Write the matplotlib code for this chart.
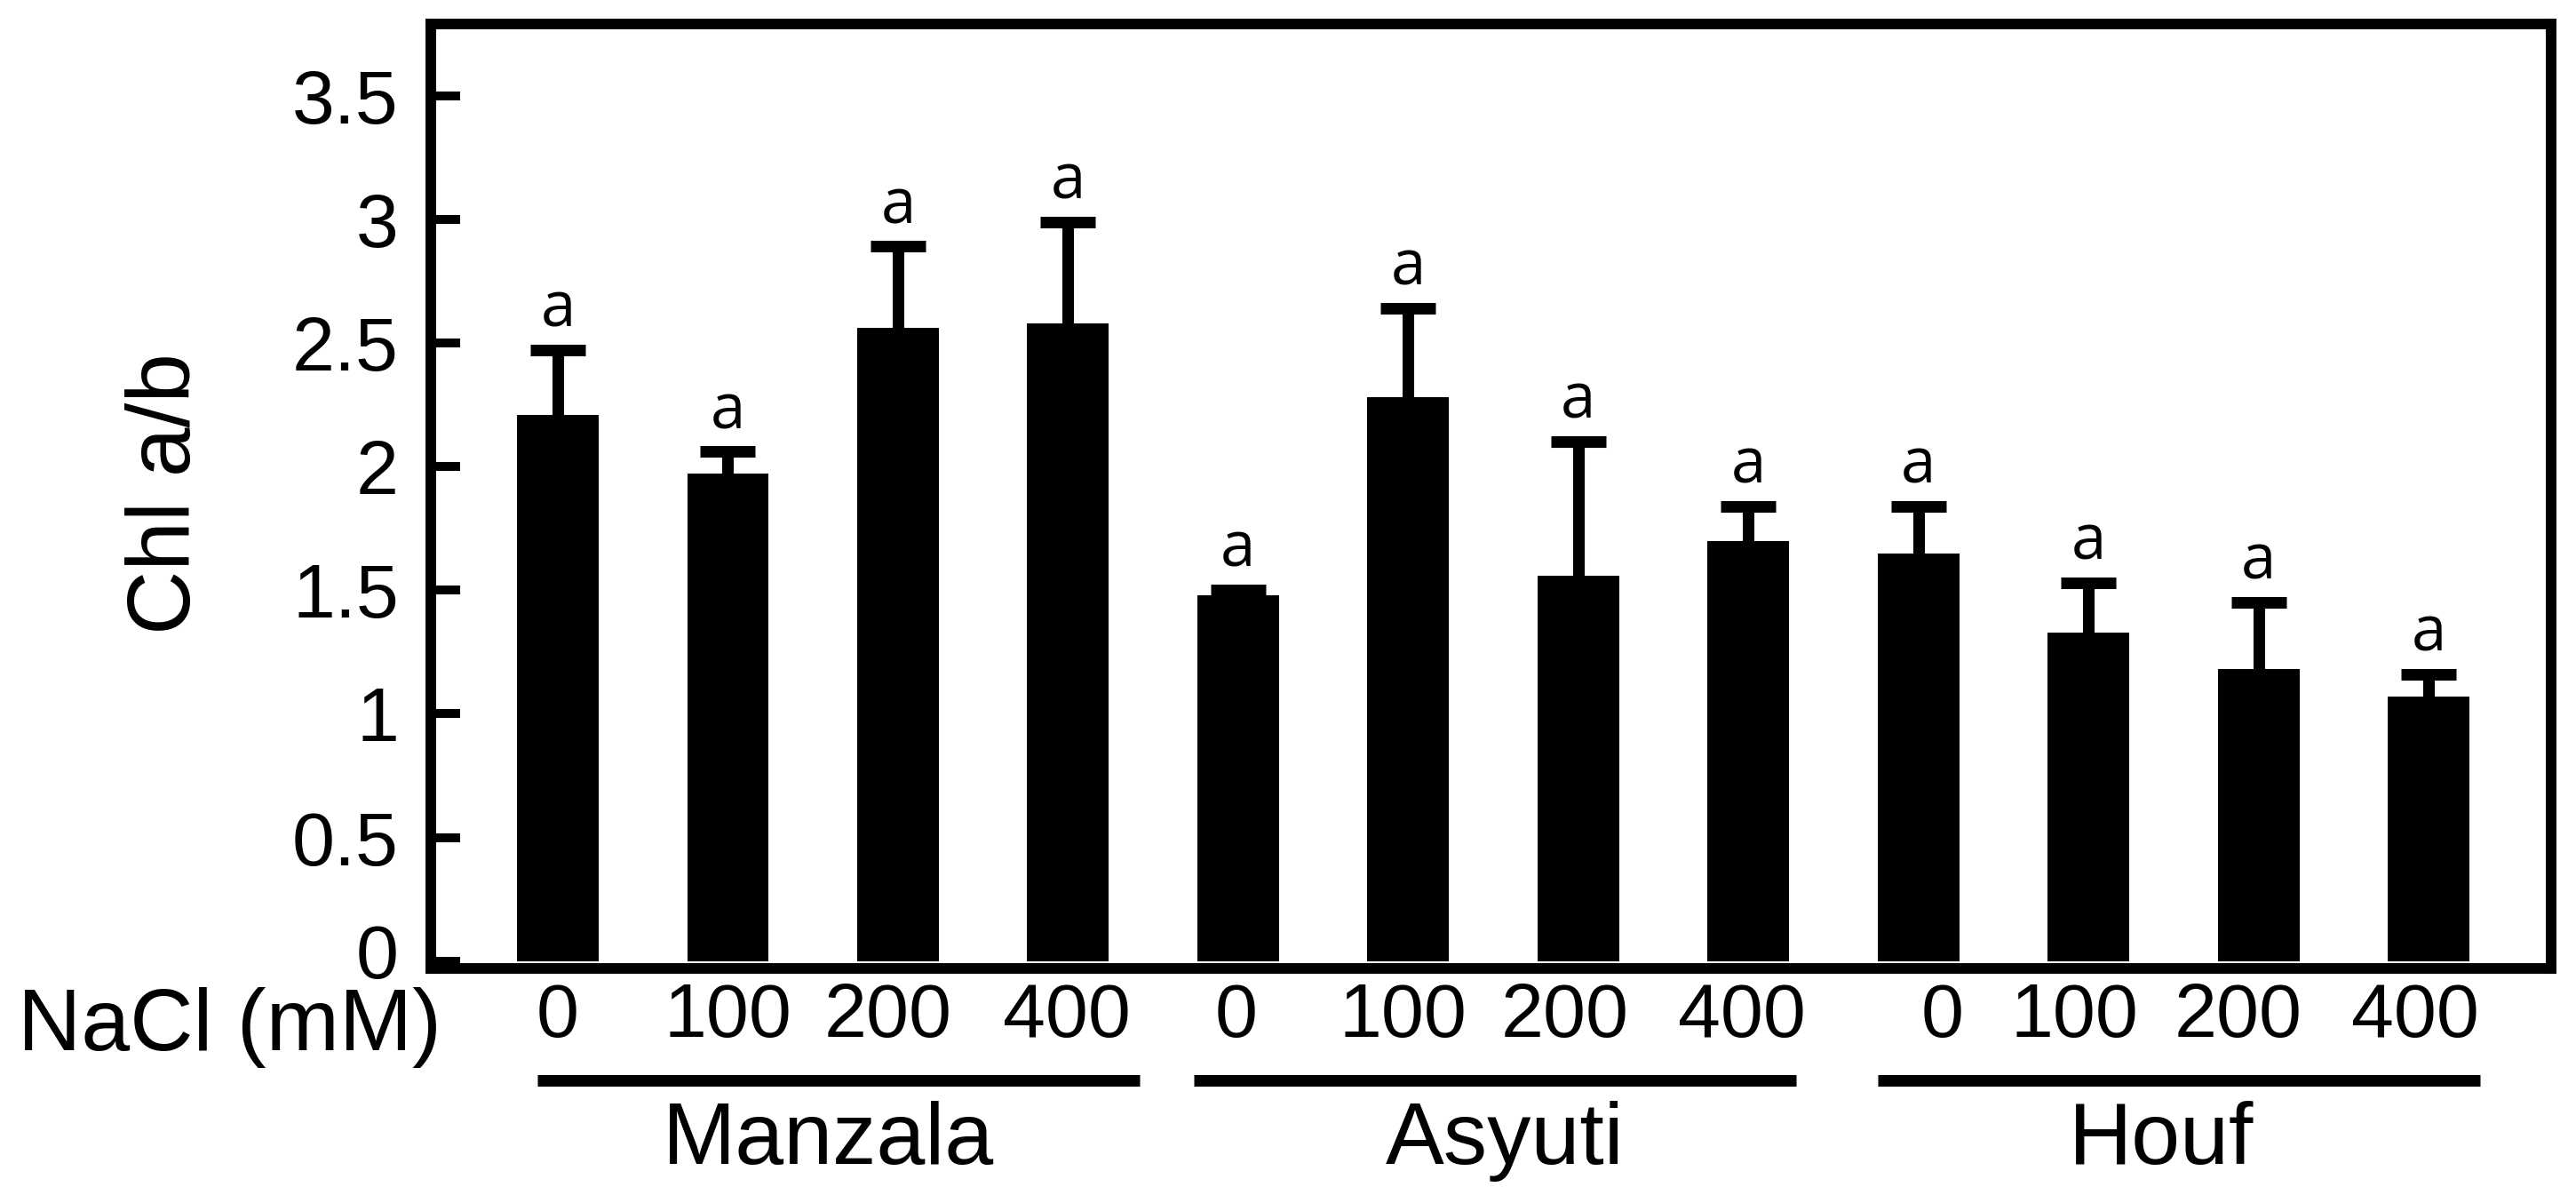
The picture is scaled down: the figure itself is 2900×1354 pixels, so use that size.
import matplotlib
matplotlib.use("Agg")
import matplotlib.pyplot as plt
from matplotlib.ticker import FormatStrFormatter
from matplotlib.transforms import ScaledTranslation
import numpy as np

# ---- data ----
populations = ["Manzala", "Asyuti", "Houf"]
nacl_levels = ["0", "100", "200", "400"]
chl_ab_mean = [2.21, 1.97, 2.56, 2.58,
               1.48, 2.28, 1.56, 1.70,
               1.65, 1.33, 1.18, 1.07]
chl_ab_err = [0.26, 0.09, 0.33, 0.41,
              0.02, 0.36, 0.54, 0.14,
              0.19, 0.20, 0.27, 0.09]
letters = ["a"] * 12
y_ticks = [0, 0.5, 1, 1.5, 2, 2.5, 3, 3.5]

plt.rcParams['font.family'] = ['Liberation Sans', 'DejaVu Sans']

DPI = 100
fig = plt.figure(figsize=(29.0, 13.54), dpi=DPI)
W, H = 2900, 1354
L, R, T, B = 485, 2872, 27, 1090
ax = fig.add_axes([L / W, (H - B) / H, (R - L) / W, (B - T) / H])

x = np.arange(len(chl_ab_mean))
means = np.array(chl_ab_mean)
errs = np.array(chl_ab_err)

ax.bar(x, means, width=0.48, color="black", linewidth=0, zorder=2)
eb = ax.errorbar(x, means, yerr=[np.zeros_like(errs), errs], fmt="none",
                 ecolor="black", elinewidth=9.4, capsize=22.5, capthick=9.4,
                 zorder=1)
# hide the lower caps (only upper error shown)
eb.lines[1][0].set_visible(False)

for xi, top, lab in zip(x, means + errs, letters):
    ax.annotate(lab, (xi, top), xytext=(0, 19), textcoords="offset points",
                ha="center", va="baseline", fontsize=51,
                family=["Open Sans", "DejaVu Sans"])

ax.set_xlim(-0.747, 11.72)
ax.set_ylim(-0.03, 3.79)

lw = 8.6
for sp in ax.spines.values():
    sp.set_linewidth(lw)
    sp.set_color("black")

ax.set_yticks(y_ticks)
ax.yaxis.set_major_formatter(FormatStrFormatter("%g"))
ax.tick_params(axis="y", direction="in", length=24, width=7.2, pad=26,
               labelsize=62)

# small horizontal shifts of the concentration labels (layout only)
label_shift = [0, 0, -0.06, -0.01, -0.01, -0.03, -0.08, -0.04,
               0.14, -0.08, -0.12, -0.08]
ax.set_xticks(x + np.array(label_shift))
ax.set_xticklabels(nacl_levels * len(populations))
ax.tick_params(axis="x", length=0, pad=10.5, labelsize=62)

fig.canvas.draw()
lbl0 = ax.get_yticklabels()[0]
lbl0.set_transform(lbl0.get_transform() + ScaledTranslation(0, 0.12, fig.dpi_scale_trans))

ax.set_ylabel("Chl a/b", fontsize=72)
ax.yaxis.set_label_coords(-0.1047, 0.503)

xtr = ax.get_xaxis_transform()
ax.text(0.005, (B - 1182) / (B - T), "NaCl (mM)", transform=ax.transAxes,
        ha="right", va="baseline", fontsize=71, clip_on=False)

spans = [(-0.12, 3.42), (3.74, 7.28), (7.76, 11.30)]
name_x = [1.59, 5.57, 9.43]
line_y = (B - 1216) / (B - T)
name_y = (B - 1310) / (B - T)
for (x0, x1), nx, name in zip(spans, name_x, populations):
    ax.plot([x0, x1], [line_y, line_y], color="black", lw=9.4,
            transform=xtr, clip_on=False, solid_capstyle="butt")
    ax.text(nx, name_y, name, transform=xtr, ha="center", va="baseline",
            fontsize=71, clip_on=False)

fig.savefig("out.png", dpi=DPI, facecolor="white")
